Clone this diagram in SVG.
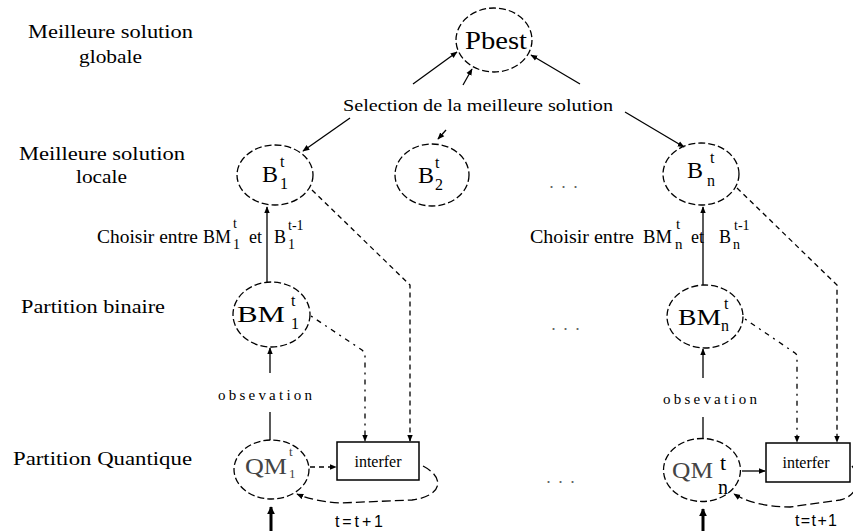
<svg xmlns="http://www.w3.org/2000/svg" width="853" height="531" viewBox="0 0 853 531" font-family="'Liberation Serif', 'DejaVu Serif', 'Times New Roman', serif">
<style>
.bg{fill:#fff}
.n{fill:none;stroke:#000;stroke-width:1.3;stroke-dasharray:7 3}
text{font-family:'Liberation Serif','DejaVu Serif','Times New Roman',serif;fill:#000}
.lab{font-size:19px}
.nt{font-size:24px}
.sm{font-size:16px}
.c{fill:none;stroke:#000;stroke-width:1.3}
.dash{stroke-dasharray:5 4}
.dd{stroke-dasharray:2 5 5 5}
.long{stroke-dasharray:9 4}
.bold{stroke-width:3}
.box{fill:#fff;stroke:#000;stroke-width:1.5}
text.dots{font-family:'Liberation Sans',Arial,sans-serif;font-size:18px;fill:#666;letter-spacing:7px}
.obs{font-size:15px}
text.tt{font-family:'Liberation Sans',Arial,sans-serif;font-size:16px}
</style>
<defs>
<marker id="ah" viewBox="0 0 10 10" refX="9" refY="5" markerWidth="7" markerHeight="7" orient="auto" markerUnits="userSpaceOnUse">
<path d="M0,1 L10,5 L0,9 z" fill="#000"/>
</marker>
<marker id="ahb" viewBox="0 0 10 10" refX="9" refY="5" markerWidth="8" markerHeight="8" orient="auto" markerUnits="userSpaceOnUse">
<path d="M0,0 L10,5 L0,10 z" fill="#000"/>
</marker>
</defs>
<rect class="bg" x="0" y="0" width="853" height="531"/>

<g id="labels">
<text class="lab" x="28" y="38" textLength="165" lengthAdjust="spacingAndGlyphs">Meilleure solution</text>
<text class="lab" x="79" y="63" textLength="63" lengthAdjust="spacingAndGlyphs">globale</text>
<text class="lab" x="19" y="160" textLength="166" lengthAdjust="spacingAndGlyphs">Meilleure solution</text>
<text class="lab" x="76" y="183" textLength="51" lengthAdjust="spacingAndGlyphs">locale</text>
<text class="lab" x="21" y="313" textLength="144" lengthAdjust="spacingAndGlyphs">Partition binaire</text>
<text class="lab" x="13" y="465" textLength="179" lengthAdjust="spacingAndGlyphs">Partition Quantique</text>
<text x="343" y="111" font-size="17" textLength="270" lengthAdjust="spacingAndGlyphs">Selection de la meilleure solution</text>
<text class="dots" x="549" y="188">...</text>
<text class="dots" x="551" y="330">...</text>
<text class="dots" x="546" y="483">...</text>
</g>

<g id="choisir1">
<text x="97" y="243" font-size="18" textLength="101" lengthAdjust="spacingAndGlyphs">Choisir entre</text>
<text x="203" y="243" font-size="18" textLength="28" lengthAdjust="spacingAndGlyphs">BM</text>
<text x="233" y="228" font-size="14">t</text>
<text x="233" y="249" font-size="14">1</text>
<text x="249" y="243" font-size="18">et</text>
<text x="274" y="243" font-size="18">B</text>
<text x="288" y="230" font-size="14">t-1</text>
<text x="288" y="249" font-size="14">1</text>
</g>
<g id="choisirn">
<text x="530" y="243" font-size="18" textLength="104" lengthAdjust="spacingAndGlyphs">Choisir entre</text>
<text x="643" y="243" font-size="18" textLength="29" lengthAdjust="spacingAndGlyphs">BM</text>
<text x="676" y="229" font-size="15">t</text>
<text x="675" y="249" font-size="15">n</text>
<text x="691" y="243" font-size="18">et</text>
<text x="719" y="243" font-size="18">B</text>
<text x="734" y="230" font-size="14">t-1</text>
<text x="733" y="249" font-size="14">n</text>
</g>

<g id="pbest">
<ellipse class="n" cx="494" cy="40" rx="38" ry="32"/>
<text x="465" y="49" font-size="26" textLength="62" lengthAdjust="spacingAndGlyphs">Pbest</text>
</g>

<g id="b1">
<ellipse class="n" cx="275" cy="175" rx="38" ry="30"/>
<text class="nt" x="262" y="182">B</text>
<text class="sm" x="280" y="167">t</text>
<text class="sm" x="280" y="189">1</text>
</g>
<g id="b2">
<ellipse class="n" cx="432" cy="175" rx="37" ry="31"/>
<text class="nt" x="418" y="183">B</text>
<text class="sm" x="435" y="168">t</text>
<text class="sm" x="435" y="190">2</text>
</g>
<g id="bn">
<ellipse class="n" cx="701" cy="174" rx="38" ry="31"/>
<text class="nt" x="687" y="178">B</text>
<text class="sm" x="710" y="163">t</text>
<text class="sm" x="707" y="186">n</text>
</g>

<g id="bm1">
<ellipse class="n" cx="271.5" cy="314.5" rx="38.5" ry="32.5"/>
<text class="nt" x="237" y="322" textLength="48" lengthAdjust="spacingAndGlyphs">BM</text>
<text class="sm" x="291" y="306">t</text>
<text class="sm" x="291" y="329">1</text>
</g>
<g id="bmn">
<ellipse class="n" cx="705" cy="316.5" rx="38" ry="31.5"/>
<text class="nt" x="678" y="325" textLength="43" lengthAdjust="spacingAndGlyphs">BM</text>
<text class="sm" x="724" y="309">t</text>
<text class="sm" x="721" y="331">n</text>
</g>

<g id="qm1">
<ellipse class="n" cx="271.5" cy="469.5" rx="37.5" ry="29.5"/>
<text class="nt" x="245" y="474" textLength="42" lengthAdjust="spacingAndGlyphs" style="fill:#444">QM</text>
<text x="289" y="456" font-size="13" style="fill:#444">t</text>
<text x="289" y="478" font-size="13" style="fill:#444">1</text>
</g>
<g id="qmn">
<ellipse class="n" cx="702" cy="470" rx="38.5" ry="31.5"/>
<text class="nt" x="672" y="478" textLength="41" lengthAdjust="spacingAndGlyphs" style="fill:#444">QM</text>
<text x="720" y="470" font-size="22">t</text>
<text x="718" y="494" font-size="20">n</text>
</g>

<g id="interfer1">
<rect class="box" x="337" y="442" width="82" height="38"/>
<text x="378" y="467" font-size="16" text-anchor="middle">interfer</text>
</g>
<g id="interfern">
<rect class="box" x="766" y="443" width="84" height="39"/>
<text x="806" y="468" font-size="16" text-anchor="middle">interfer</text>
</g>

<g id="connectors">
<line class="c" x1="413" y1="84" x2="457" y2="52" marker-end="url(#ah)"/>
<line class="c" x1="463" y1="85" x2="472" y2="69" marker-end="url(#ah)"/>
<line class="c" x1="580" y1="84" x2="531" y2="55" marker-end="url(#ah)"/>
<line class="c" x1="350" y1="118" x2="303" y2="151" marker-end="url(#ah)"/>
<line class="c" x1="446" y1="130" x2="438" y2="139" marker-end="url(#ah)"/>
<line class="c" x1="625" y1="112" x2="684" y2="147" marker-end="url(#ah)"/>

<line class="c" x1="267" y1="283" x2="267" y2="207" marker-end="url(#ah)"/>
<line class="c" x1="703" y1="285" x2="703" y2="207" marker-end="url(#ah)"/>
<line class="c" x1="270" y1="373" x2="270" y2="348" marker-end="url(#ah)"/>
<line class="c" x1="703" y1="378" x2="703" y2="349" marker-end="url(#ah)"/>
<line class="c" x1="270" y1="412" x2="270" y2="440"/>
<line class="c" x1="703" y1="417" x2="703" y2="438"/>
<line class="c bold" x1="271" y1="531" x2="271" y2="507" marker-end="url(#ahb)"/>
<line class="c bold" x1="703" y1="531" x2="703" y2="509" marker-end="url(#ahb)"/>

<path class="c dash" d="M312,190 L410,285 L410,441" marker-end="url(#ah)"/>
<path class="c dd" d="M311,316 L362,350 L365,353 L365,441" marker-end="url(#ah)"/>
<path class="c dash" d="M310,467 L336,467" marker-end="url(#ah)"/>
<path class="c long" d="M423,466 C446,478 442,496 412,500 L340,503 C322,502 306,498 297,494" marker-end="url(#ah)"/>

<path class="c dash" d="M737,188 L837,285 L837,442" marker-end="url(#ah)"/>
<path class="c dd" d="M745,319 L795,353 L797,355 L797,442" marker-end="url(#ah)"/>
<path class="c" d="M742,471 L765,471" marker-end="url(#ah)"/>
<path class="c long" d="M852,466 C862,478 858,496 840,500 L790,507 C765,507 745,501 734,494" marker-end="url(#ah)"/>

<text class="obs" x="218" y="400" textLength="94" lengthAdjust="spacing">obsevation</text>
<text class="obs" x="663" y="404" textLength="94" lengthAdjust="spacing">obsevation</text>
<text class="tt" x="335" y="527" textLength="48" lengthAdjust="spacing">t=t+1</text>
<text class="tt" x="795" y="526" textLength="42" lengthAdjust="spacing">t=t+1</text>
</g>
</svg>
